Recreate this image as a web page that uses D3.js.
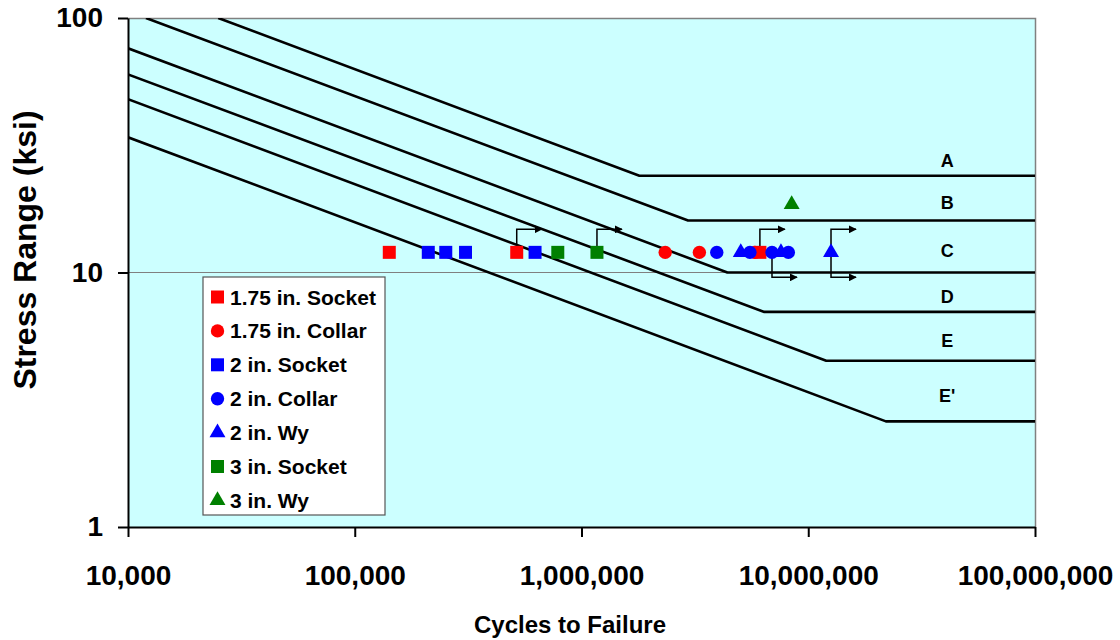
<!DOCTYPE html>
<html>
<head>
<meta charset="utf-8">
<script src="https://cdn.jsdelivr.net/npm/d3@7"></script>
<style>
  body { margin: 0; background: #fff; }
  text { font-family: "Liberation Sans", Arial, sans-serif; font-weight: bold; }
</style>
</head>
<body>
<script>
// ticks
var xTicks = [1e4, 1e5, 1e6, 1e7, 1e8];
var yTicks = [1, 10, 100];

// detail categories: start of sloped part, knee, constant amplitude limit
var categories = ["A", "B", "C", "D", "E", "E'"];
var catStartN = [2.5e4, 1.2e4, 1e4, 1e4, 1e4, 1e4];
var catStartS = [100, 100, 76, 60, 48, 34];
var catKneeN = [1.8e6, 2.95e6, 4.4e6, 6.4e6, 1.2e7, 2.2e7];
var catLimit = [24, 16, 10, 7, 4.5, 2.6];

// test results [cycles, stress range]
var socket175 = [[1.42e5, 12], [5.18e5, 12], [6.12e6, 12]];
var collar175 = [[2.34e6, 12], [3.31e6, 12], [5.82e6, 12]];
var socket2 = [[2.11e5, 12], [2.52e5, 12], [3.08e5, 12], [6.24e5, 12]];
var collar2 = [[3.95e6, 12], [5.53e6, 12], [6.92e6, 12], [8.17e6, 12]];
var wy2 = [[5.04e6, 12], [7.58e6, 12], [1.26e7, 12]];
var socket3 = [[7.86e5, 12], [1.17e6, 12]];
var wy3 = [[8.45e6, 18.5]];

// run-outs (no failure)
var runoutUp = [[5.18e5, 12], [1.17e6, 12], [6.12e6, 12], [1.26e7, 12]];
var runoutDown = [[6.92e6, 12], [1.26e7, 12]];

var series = [
  { name: "1.75 in. Socket", pts: socket175, color: "#FF0000", shape: "square" },
  { name: "1.75 in. Collar", pts: collar175, color: "#FF0000", shape: "circle" },
  { name: "2 in. Socket", pts: socket2, color: "#0000FF", shape: "square" },
  { name: "2 in. Collar", pts: collar2, color: "#0000FF", shape: "circle" },
  { name: "2 in. Wy", pts: wy2, color: "#0000FF", shape: "triangle" },
  { name: "3 in. Socket", pts: socket3, color: "#008000", shape: "square" },
  { name: "3 in. Wy", pts: wy3, color: "#008000", shape: "triangle" }
];

var w = 1120, h = 640;
var pLeft = 128, pRight = 1035, pTop = 18, pBottom = 527;

var svg = d3.select("body").append("svg")
  .attr("width", w)
  .attr("height", h);

var x = d3.scaleLog().domain([1e4, 1e8]).range([pLeft, pRight]);
var y = d3.scaleLog().domain([1, 100]).range([pBottom, pTop]);

var defs = svg.append("defs");
defs.append("clipPath").attr("id", "plotclip")
  .append("rect")
  .attr("x", pLeft).attr("y", pTop)
  .attr("width", pRight - pLeft).attr("height", pBottom - pTop);
defs.append("marker")
  .attr("id", "head")
  .attr("viewBox", "0 0 10 10")
  .attr("refX", 9).attr("refY", 5)
  .attr("markerWidth", 8).attr("markerHeight", 8)
  .attr("markerUnits", "userSpaceOnUse")
  .attr("orient", "auto")
  .append("path")
  .attr("d", "M0,0 L10,5 L0,10 Z")
  .attr("fill", "#000");

// plot area
svg.append("rect")
  .attr("x", pLeft).attr("y", pTop)
  .attr("width", pRight - pLeft).attr("height", pBottom - pTop)
  .attr("fill", "#CCFFFF");

// gridline at 10
svg.append("line")
  .attr("x1", pLeft).attr("x2", pRight)
  .attr("y1", y(10)).attr("y2", y(10))
  .attr("stroke", "#808080").attr("stroke-width", 1.2);

// gray border top / right
svg.append("path")
  .attr("d", "M" + pLeft + "," + (pTop + 0.5) + "H" + (pRight + 0.5) + "V" + pBottom)
  .attr("fill", "none")
  .attr("stroke", "#808080").attr("stroke-width", 1.5);

// S-N curves
var line = d3.line()
  .x(function(d) { return x(d[0]); })
  .y(function(d) { return y(d[1]); });

svg.append("g").attr("clip-path", "url(#plotclip)")
  .selectAll("path")
  .data(categories)
  .enter()
  .append("path")
  .attr("d", function(d, i) {
    return line([[catStartN[i], catStartS[i]], [catKneeN[i], catLimit[i]], [1e8, catLimit[i]]]);
  })
  .attr("fill", "none")
  .attr("stroke", "#000")
  .attr("stroke-width", 2.6)
  .attr("stroke-linejoin", "round");

// category labels
svg.selectAll("text.cat")
  .data(categories)
  .enter()
  .append("text")
  .attr("class", "cat")
  .attr("text-anchor", "middle")
  .attr("font-size", "18px")
  .attr("x", x(4.1e7))
  .attr("y", function(d, i) {
    var yl = y(catLimit[i]);
    var mid = i == 0 ? yl - 15 : (yl + y(catLimit[i - 1])) / 2 + 4;
    return mid + 6.5;
  })
  .text(function(d) { return d; });

// run-out arrows
svg.append("g").selectAll("path")
  .data(runoutUp)
  .enter()
  .append("path")
  .attr("d", function(d) {
    var px = x(d[0]), py = y(d[1]);
    return "M" + px + "," + py + "V" + (py - 23) + "H" + (px + 25);
  })
  .attr("fill", "none").attr("stroke", "#000").attr("stroke-width", 1.5)
  .attr("marker-end", "url(#head)");

svg.append("g").selectAll("path")
  .data(runoutDown)
  .enter()
  .append("path")
  .attr("d", function(d) {
    var px = x(d[0]), py = y(d[1]);
    return "M" + px + "," + py + "V" + (py + 25) + "H" + (px + 25);
  })
  .attr("fill", "none").attr("stroke", "#000").attr("stroke-width", 1.5)
  .attr("marker-end", "url(#head)");

// markers
function symbolPath(shape) {
  if (shape == "square") return d3.symbol().type(d3.symbolSquare).size(169)();
  if (shape == "circle") return d3.symbol().type(d3.symbolCircle).size(140)();
  return d3.symbol().type(d3.symbolTriangle).size(110)();
}

series.forEach(function(s) {
  svg.append("g").selectAll("path")
    .data(s.pts)
    .enter()
    .append("path")
    .attr("d", symbolPath(s.shape))
    .attr("transform", function(d) {
      return "translate(" + x(d[0]) + "," + y(d[1]) + ")";
    })
    .attr("fill", s.color);
});

// axes
var yAxis = d3.axisLeft(y)
  .tickValues(yTicks)
  .tickFormat(d3.format(","))
  .tickSize(10)
  .tickSizeOuter(0)
  .tickPadding(15);

var gy = svg.append("g")
  .attr("transform", "translate(" + pLeft + ",0)")
  .call(yAxis);
gy.selectAll("text").attr("font-size", "28px").attr("fill", "#000")
  .style("font-family", "'Liberation Sans', Arial, sans-serif");
gy.selectAll("line").attr("stroke-width", 2);
gy.select(".domain").attr("stroke-width", 2);

var xAxis = d3.axisBottom(x)
  .tickValues(xTicks)
  .tickFormat(d3.format(","))
  .tickSize(10)
  .tickSizeOuter(0);

var gx = svg.append("g")
  .attr("transform", "translate(0," + pBottom + ")")
  .call(xAxis);
gx.selectAll("text").attr("font-size", "28px").attr("fill", "#000")
  .attr("dy", null).attr("y", 58)
  .style("font-family", "'Liberation Sans', Arial, sans-serif");
gx.selectAll("line").attr("stroke-width", 2);
gx.select(".domain").attr("stroke-width", 2);

// axis titles
svg.append("text")
  .attr("text-anchor", "middle")
  .attr("font-size", "32px")
  .attr("transform", "translate(36,250) rotate(-90)")
  .text("Stress Range (ksi)");

svg.append("text")
  .attr("text-anchor", "middle")
  .attr("font-size", "24px")
  .attr("x", 570)
  .attr("y", 633)
  .text("Cycles to Failure");

// legend
var lg = svg.append("g").attr("transform", "translate(203,277)");
lg.append("rect")
  .attr("width", 182).attr("height", 238)
  .attr("fill", "#fff")
  .attr("stroke", "#555").attr("stroke-width", 1.2);

var rows = lg.selectAll("g.row")
  .data(series)
  .enter()
  .append("g")
  .attr("class", "row")
  .attr("transform", function(d, i) { return "translate(0," + (20 + i * 33.9) + ")"; });

rows.append("path")
  .attr("d", function(d) { return symbolPath(d.shape); })
  .attr("transform", "translate(14.5,0)")
  .attr("fill", function(d) { return d.color; });

rows.append("text")
  .attr("x", 27)
  .attr("y", 7.5)
  .attr("font-size", "21px")
  .text(function(d) { return d.name; });
</script>
</body>
</html>
